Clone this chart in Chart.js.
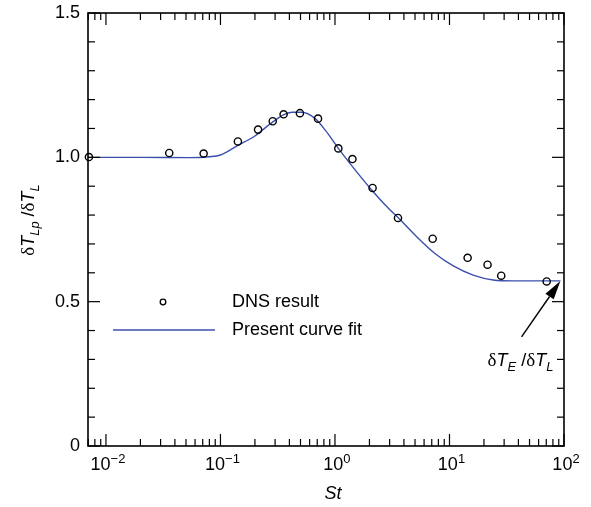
<!DOCTYPE html>
<html lang="en">
<head>
<meta charset="UTF-8" />
<title>dT_Lp/dT_L vs St</title>
<script src="https://cdn.jsdelivr.net/npm/chart.js@4.4.1/dist/chart.umd.min.js"></script>
<style>
  html, body { margin: 0; padding: 0; background: #fff; }
</style>
</head>
<body>
<canvas id="myChart" width="591" height="507"></canvas>
<script>
// DNS points (circles)
const dnsSt = [0.0071, 0.0357, 0.0713, 0.142, 0.213, 0.286, 0.356, 0.494, 0.711, 1.07, 1.42, 2.13, 3.55, 7.13, 14.4, 21.5, 28.3, 70.6];
const dnsRatio = [1.001, 1.015, 1.013, 1.055, 1.096, 1.125, 1.149, 1.153, 1.134, 1.031, 0.994, 0.894, 0.790, 0.718, 0.652, 0.628, 0.590, 0.570];

// curve fit (blue line)
const fitSt = [0.007, 0.02, 0.054, 0.08, 0.1, 0.14, 0.2, 0.27, 0.354, 0.42, 0.51, 0.668, 0.82, 1.07, 1.35, 2.09, 2.97, 3.57, 5.17, 7.46, 10.8, 16.1, 24.1, 36, 60, 93];
const fitRatio = [1.0, 1.0, 0.999, 1.002, 1.008, 1.04, 1.074, 1.115, 1.147, 1.156, 1.156, 1.135, 1.095, 1.031, 0.979, 0.887, 0.821, 0.791, 0.725, 0.667, 0.624, 0.592, 0.575, 0.572, 0.572, 0.572];

const xDecades = [-2, -1, 0, 1, 2];
const yTicks = [0, 0.5, 1.0, 1.5];
const yTickLabels = ['0', '0.5', '1.0', '1.5'];

// arrow annotation: tip on the curve end, tail near the label
const arrowTip = { x: 93, y: 0.572 };
const arrowTail = { x: 42.6, y: 0.378 };
const arrowText = { x: 41.7, y: 0.298 };

const BLUE = '#3b4fae';
const SANS = '"Liberation Sans", Arial, sans-serif';
const SERIF = '"Liberation Serif", "Times New Roman", serif';

// draw a run of text pieces [text, font, dy] starting at x, returns width
function runWidth(ctx, parts) {
  let w = 0;
  for (const p of parts) { ctx.font = p[1]; w += ctx.measureText(p[0]).width; }
  return w;
}
function drawRun(ctx, parts, x, y) {
  for (const p of parts) {
    ctx.font = p[1];
    ctx.fillText(p[0], x, y + (p[2] || 0));
    x += ctx.measureText(p[0]).width;
  }
}

const frame = {
  id: 'frame',
  afterDatasetsDraw(chart) {
    const { ctx, chartArea: a, scales: { x, y } } = chart;
    const line = (x1, y1, x2, y2) => { ctx.beginPath(); ctx.moveTo(x1, y1); ctx.lineTo(x2, y2); ctx.stroke(); };
    ctx.save();
    ctx.strokeStyle = '#000';
    ctx.fillStyle = '#000';

    // inward ticks
    ctx.lineWidth = 1.2;
    for (let d = -3; d <= 2; d++) {
      for (let m = 1; m <= 9; m++) {
        const v = m * Math.pow(10, d);
        if (v < x.min || v > x.max * 1.0001) continue;
        const px = x.getPixelForValue(v);
        const len = m === 1 ? 12 : 7;
        line(px, a.bottom, px, a.bottom - len);
        line(px, a.top, px, a.top + len);
      }
    }
    for (let i = 0; i <= 15; i++) {
      const py = y.getPixelForValue(i / 10);
      const len = i % 5 === 0 ? 12 : 7;
      line(a.left, py, a.left + len, py);
      line(a.right, py, a.right - len, py);
    }

    // frame
    ctx.lineWidth = 1.6;
    ctx.strokeRect(a.left, a.top, a.right - a.left, a.bottom - a.top);

    // y tick labels
    ctx.font = '18px ' + SANS;
    ctx.textAlign = 'right';
    ctx.textBaseline = 'middle';
    yTicks.forEach((v, i) => ctx.fillText(yTickLabels[i], a.left - 8, y.getPixelForValue(v)));

    // x tick labels 10^n
    ctx.textAlign = 'left';
    ctx.textBaseline = 'alphabetic';
    xDecades.forEach(d => {
      const exp = d < 0 ? '\u2212' + (-d) : String(d);
      const parts = [['10', '18px ' + SANS, 0], [exp, '13px ' + SANS, -7]];
      const w = runWidth(ctx, parts);
      drawRun(ctx, parts, x.getPixelForValue(Math.pow(10, d)) - w / 2 + 2, a.bottom + 24);
    });

    // x title
    ctx.font = 'italic 18px ' + SANS;
    ctx.textAlign = 'center';
    ctx.fillText('St', (a.left + a.right) / 2 + 7, a.bottom + 53);

    // y title (rotated)
    const yParts = [
      ['\u03b4', '19px ' + SERIF, 0], ['T', 'italic 18px ' + SANS, 0], ['Lp', 'italic 13px ' + SANS, 5],
      [' /', '18px ' + SANS, 0], ['\u03b4', '19px ' + SERIF, 0], ['T', 'italic 18px ' + SANS, 0], ['L', 'italic 13px ' + SANS, 5]
    ];
    ctx.save();
    ctx.translate(34, 220);
    ctx.rotate(-Math.PI / 2);
    ctx.textAlign = 'left';
    const yw = runWidth(ctx, yParts);
    drawRun(ctx, yParts, -yw / 2, 0);
    ctx.restore();

    // legend
    const ds = chart.data.datasets;
    const lx = a.left + 25, ly1 = a.top + 289, ly2 = a.top + 317;
    ctx.lineWidth = 1.3;
    ctx.beginPath();
    ctx.arc(lx + 50, ly1, 2.8, 0, Math.PI * 2);
    ctx.stroke();
    ctx.strokeStyle = BLUE;
    ctx.lineWidth = 1.4;
    line(lx, ly2, lx + 102, ly2);
    ctx.font = '18px ' + SANS;
    ctx.textAlign = 'left';
    ctx.textBaseline = 'middle';
    ctx.fillText(ds[0].label, lx + 119, ly1);
    ctx.fillText(ds[1].label, lx + 119, ly2);

    // annotation arrow
    const tx = x.getPixelForValue(arrowTip.x), ty = y.getPixelForValue(arrowTip.y);
    const sx = x.getPixelForValue(arrowTail.x), sy = y.getPixelForValue(arrowTail.y);
    const ang = Math.atan2(ty - sy, tx - sx);
    const hl = 19, hw = 5;
    const bx = tx - hl * Math.cos(ang), by = ty - hl * Math.sin(ang);
    ctx.strokeStyle = '#000';
    ctx.lineWidth = 1.4;
    line(sx, sy, bx, by);
    ctx.beginPath();
    ctx.moveTo(tx, ty);
    ctx.lineTo(bx + hw * Math.sin(ang), by - hw * Math.cos(ang));
    ctx.lineTo(bx - hw * Math.sin(ang), by + hw * Math.cos(ang));
    ctx.closePath();
    ctx.fill();

    const aParts = [
      ['\u03b4', '19px ' + SERIF, 0], ['T', 'italic 18px ' + SANS, 0], ['E', 'italic 13px ' + SANS, 5],
      [' /', '18px ' + SANS, 0], ['\u03b4', '19px ' + SERIF, 0], ['T', 'italic 18px ' + SANS, 0], ['L', 'italic 13px ' + SANS, 5]
    ];
    ctx.textBaseline = 'alphabetic';
    const aw = runWidth(ctx, aParts);
    drawRun(ctx, aParts, x.getPixelForValue(arrowText.x) - aw / 2, y.getPixelForValue(arrowText.y) + 6);

    ctx.restore();
  }
};

const config = {
  type: 'scatter',
  data: {
    datasets: [
      {
        label: 'DNS result',
        data: dnsSt.map((s, i) => ({ x: s, y: dnsRatio[i] })),
        pointRadius: 3.6,
        pointBorderWidth: 1.4,
        borderColor: '#000',
        backgroundColor: 'rgba(0,0,0,0)',
        clip: false,
        order: 0,
      },
      {
        label: 'Present curve fit',
        data: fitSt.map((s, i) => ({ x: s, y: fitRatio[i] })),
        showLine: true,
        pointRadius: 0,
        borderColor: BLUE,
        borderWidth: 1.4,
        cubicInterpolationMode: 'monotone',
        order: 1,
      },
    ],
  },
  options: {
    responsive: false,
    animation: false,
    devicePixelRatio: 1,
    layout: { padding: { left: 88, top: 13, right: 27, bottom: 61 } },
    plugins: { legend: { display: false }, tooltip: { enabled: false } },
    scales: {
      x: { type: 'logarithmic', min: 0.00697, max: 100, display: false },
      y: { type: 'linear', min: 0, max: 1.5, display: false },
    },
  },
  plugins: [frame],
};

new Chart(document.getElementById('myChart'), config);
</script>
</body>
</html>
